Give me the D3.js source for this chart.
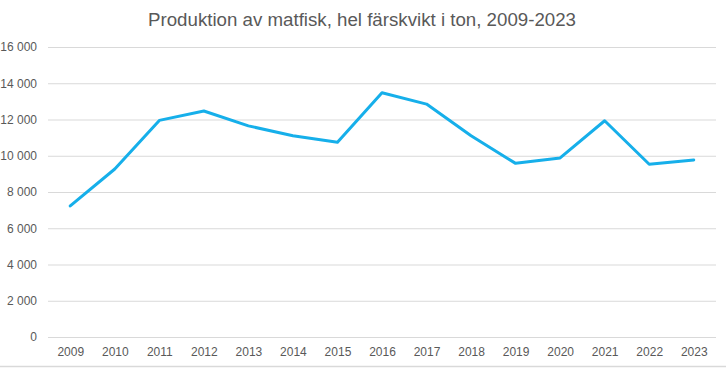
<!DOCTYPE html>
<html>
<head>
<meta charset="utf-8">
<script src="https://cdn.jsdelivr.net/npm/d3@7"></script>
<style>
  html, body { margin: 0; padding: 0; background: #fff; }
  svg { display: block; font-family: "Liberation Sans", Arial, sans-serif; }
</style>
</head>
<body>
<svg id="chart" width="726" height="368"></svg>
<script>
const title = "Produktion av matfisk, hel färskvikt i ton, 2009-2023";
const years = ["2009","2010","2011","2012","2013","2014","2015","2016","2017","2018","2019","2020","2021","2022","2023"];
const values = [7230, 9270, 11950, 12470, 11650, 11100, 10740, 13480, 12850, 11100, 9580, 9880, 11930, 9530, 9770];
const yTicks = [0, 2000, 4000, 6000, 8000, 10000, 12000, 14000, 16000];

const svg = d3.select("#chart");
const W = 726, H = 368;
const plotLeft = 48, plotRight = 716, plotTop = 47, plotBottom = 337;

const x = d3.scalePoint().domain(years).range([plotLeft, plotRight]).padding(0.5);
const y = d3.scaleLinear().domain([0, 16000]).range([plotBottom, plotTop]);

const fmt = v => d3.format(",")(v).replace(/,/g, " ");

// bottom border of chart area
svg.append("line")
  .attr("x1", 0).attr("x2", W)
  .attr("y1", 366.5).attr("y2", 366.5)
  .attr("stroke", "#d9d9d9").attr("stroke-width", 1.5);

// title
svg.append("text")
  .attr("x", W / 2 - 1).attr("y", 26)
  .attr("text-anchor", "middle")
  .attr("fill", "#595959")
  .style("font-size", "18.7px")
  .text(title);

// y axis with gridlines
const yAxis = d3.axisLeft(y).tickValues(yTicks).tickFormat(fmt).tickSize(-(plotRight - plotLeft)).tickPadding(11);
const gy = svg.append("g").attr("transform", `translate(${plotLeft},0)`).call(yAxis);
gy.select(".domain").remove();
gy.selectAll(".tick line").attr("stroke", "#d9d9d9").attr("stroke-width", 1);
gy.selectAll(".tick text").attr("fill", "#595959").style("font-size", "12px");

// x axis
const xAxis = d3.axisBottom(x).tickSize(0).tickPadding(10);
const gx = svg.append("g").attr("transform", `translate(0,${plotBottom})`).call(xAxis);
gx.select(".domain").remove();
gx.selectAll(".tick text").attr("fill", "#595959").style("font-size", "12px");

// line
const line = d3.line().x((d, i) => x(years[i])).y(d => y(d));
svg.append("path")
  .datum(values)
  .attr("d", line)
  .attr("fill", "none")
  .attr("stroke", "#16AFEA")
  .attr("stroke-width", 3)
  .attr("stroke-linejoin", "round")
  .attr("stroke-linecap", "round");
</script>
</body>
</html>
